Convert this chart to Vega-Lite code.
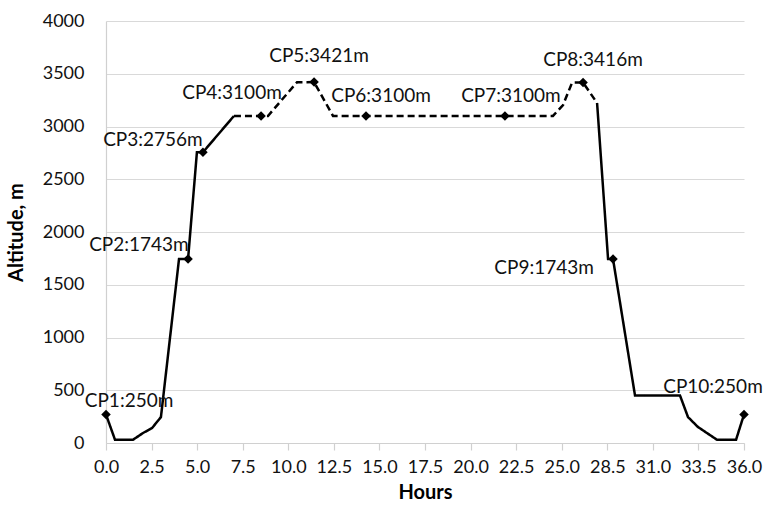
{
  "$schema": "https://vega.github.io/schema/vega-lite/v6.json",
  "width": 638,
  "height": 422,
  "autosize": "none",
  "padding": {"left": 106, "top": 21, "right": 22, "bottom": 66},
  "background": "white",
  "config": {
    "view": {"stroke": null},
    "font": "Lato"
  },
  "datasets": {
    "profile": [
      {"Hours": 0, "Altitude": 270, "seg": "a", "style": "solid"},
      {"Hours": 0.51, "Altitude": 30, "seg": "a", "style": "solid"},
      {"Hours": 1.52, "Altitude": 30, "seg": "a", "style": "solid"},
      {"Hours": 2.09, "Altitude": 95, "seg": "a", "style": "solid"},
      {"Hours": 2.6, "Altitude": 142, "seg": "a", "style": "solid"},
      {"Hours": 3.1, "Altitude": 246, "seg": "a", "style": "solid"},
      {"Hours": 4.12, "Altitude": 1743, "seg": "a", "style": "solid"},
      {"Hours": 4.63, "Altitude": 1743, "seg": "a", "style": "solid"},
      {"Hours": 5.13, "Altitude": 2756, "seg": "a", "style": "solid"},
      {"Hours": 5.47, "Altitude": 2756, "seg": "a", "style": "solid"},
      {"Hours": 7.22, "Altitude": 3100, "seg": "a", "style": "solid"},
      {"Hours": 7.22, "Altitude": 3100, "seg": "b", "style": "dashed"},
      {"Hours": 8.75, "Altitude": 3100, "seg": "b", "style": "dashed"},
      {"Hours": 9.14, "Altitude": 3100, "seg": "b", "style": "dashed"},
      {"Hours": 10.78, "Altitude": 3420, "seg": "b", "style": "dashed"},
      {"Hours": 11.34, "Altitude": 3420, "seg": "b", "style": "dashed"},
      {"Hours": 11.74, "Altitude": 3421, "seg": "b", "style": "dashed"},
      {"Hours": 12.81, "Altitude": 3100, "seg": "b", "style": "dashed"},
      {"Hours": 14.67, "Altitude": 3100, "seg": "b", "style": "dashed"},
      {"Hours": 22.51, "Altitude": 3100, "seg": "b", "style": "dashed"},
      {"Hours": 25.22, "Altitude": 3100, "seg": "b", "style": "dashed"},
      {"Hours": 25.79, "Altitude": 3204, "seg": "b", "style": "dashed"},
      {"Hours": 26.3, "Altitude": 3416, "seg": "b", "style": "dashed"},
      {"Hours": 26.92, "Altitude": 3416, "seg": "b", "style": "dashed"},
      {"Hours": 27.71, "Altitude": 3223, "seg": "b", "style": "dashed"},
      {"Hours": 27.71, "Altitude": 3223, "seg": "c", "style": "solid"},
      {"Hours": 28.33, "Altitude": 1743, "seg": "c", "style": "solid"},
      {"Hours": 28.61, "Altitude": 1743, "seg": "c", "style": "solid"},
      {"Hours": 29.85, "Altitude": 450, "seg": "c", "style": "solid"},
      {"Hours": 32.39, "Altitude": 450, "seg": "c", "style": "solid"},
      {"Hours": 32.84, "Altitude": 246, "seg": "c", "style": "solid"},
      {"Hours": 33.4, "Altitude": 152, "seg": "c", "style": "solid"},
      {"Hours": 34.48, "Altitude": 30, "seg": "c", "style": "solid"},
      {"Hours": 35.55, "Altitude": 30, "seg": "c", "style": "solid"},
      {"Hours": 36, "Altitude": 270, "seg": "c", "style": "solid"}
    ],
    "cps": [
      {"label": "CP1:250m", "Hours": 0, "Altitude": 270, "lx": 1.3, "ly": 398},
      {"label": "CP2:1743m", "Hours": 4.63, "Altitude": 1743, "lx": 1.86, "ly": 1877},
      {"label": "CP3:2756m", "Hours": 5.47, "Altitude": 2756, "lx": 2.65, "ly": 2872},
      {"label": "CP4:3100m", "Hours": 8.75, "Altitude": 3100, "lx": 7.11, "ly": 3318},
      {"label": "CP5:3421m", "Hours": 11.74, "Altitude": 3421, "lx": 12.02, "ly": 3668},
      {"label": "CP6:3100m", "Hours": 14.67, "Altitude": 3100, "lx": 15.52, "ly": 3289},
      {"label": "CP7:3100m", "Hours": 22.51, "Altitude": 3100, "lx": 22.85, "ly": 3289},
      {"label": "CP8:3416m", "Hours": 26.92, "Altitude": 3416, "lx": 27.48, "ly": 3630},
      {"label": "CP9:1743m", "Hours": 28.61, "Altitude": 1743, "lx": 24.72, "ly": 1659},
      {"label": "CP10:250m", "Hours": 36, "Altitude": 270, "lx": 34.25, "ly": 531}
    ]
  },
  "layer": [
    {
      "data": {"name": "profile"},
      "mark": {"type": "line", "color": "black", "strokeWidth": 2.5, "clip": false},
      "encoding": {
        "x": {
          "field": "Hours",
          "type": "quantitative",
          "scale": {"domain": [0, 36], "nice": false, "zero": false},
          "axis": {
            "title": "Hours",
            "titleFont": "Lato",
            "titleFontSize": 20,
            "titleFontWeight": "bold",
            "titleColor": "black",
            "titlePadding": 6,
            "values": [0, 2.571428571, 5.142857143, 7.714285714, 10.28571429, 12.85714286, 15.42857143, 18, 20.57142857, 23.14285714, 25.71428571, 28.28571429, 30.85714286, 33.42857143, 36],
            "labelExpr": "['0.0','2.5','5.0','7.5','10.0','12.5','15.0','17.5','20.0','22.5','25.0','28.5','31.0','33.5','36.0'][round(datum.value*14/36)]",
            "labelFont": "Lato",
            "labelFontSize": 18,
            "labelColor": "#111",
            "labelPadding": 8,
            "labelFlush": false,
            "labelOverlap": false,
            "grid": false,
            "domainColor": "#d0d0d0",
            "domainWidth": 1.2,
            "tickColor": "#d0d0d0",
            "tickWidth": 1.2,
            "tickSize": 7
          }
        },
        "y": {
          "field": "Altitude",
          "type": "quantitative",
          "scale": {"domain": [0, 4000], "nice": false},
          "axis": {
            "title": "Altitude, m",
            "titleFont": "Lato",
            "titleFontSize": 20,
            "titleFontWeight": "bold",
            "titleColor": "black",
            "titlePadding": 16,
            "values": [0, 500, 1000, 1500, 2000, 2500, 3000, 3500, 4000],
            "format": "d",
            "labelFont": "Lato",
            "labelFontSize": 18,
            "labelColor": "#111",
            "labelPadding": 22,
            "ticks": false,
            "grid": true,
            "gridColor": "#d9d9d9",
            "gridWidth": 1.2,
            "domainColor": "#d0d0d0",
            "domainWidth": 1.2
          }
        },
        "detail": {"field": "seg", "type": "nominal"},
        "strokeDash": {
          "field": "style",
          "type": "nominal",
          "scale": {"domain": ["solid", "dashed"], "range": [[1, 0], [7, 4]]},
          "legend": null
        }
      }
    },
    {
      "data": {"name": "cps"},
      "mark": {"type": "point", "shape": "diamond", "filled": true, "color": "black", "opacity": 1, "size": 90, "clip": false},
      "encoding": {
        "x": {"field": "Hours", "type": "quantitative"},
        "y": {"field": "Altitude", "type": "quantitative"}
      }
    },
    {
      "data": {"name": "cps"},
      "mark": {"type": "text", "font": "Lato", "fontSize": 19, "color": "#111", "align": "center", "baseline": "middle", "clip": false},
      "encoding": {
        "x": {"field": "lx", "type": "quantitative"},
        "y": {"field": "ly", "type": "quantitative"},
        "text": {"field": "label", "type": "nominal"}
      }
    }
  ]
}
